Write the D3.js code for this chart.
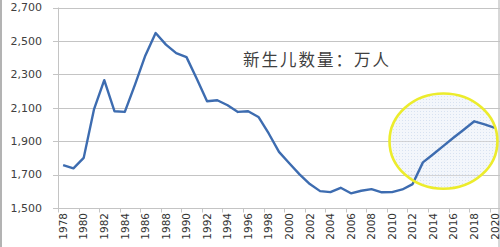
<!DOCTYPE html>
<html>
<head>
<meta charset="utf-8">
<script src="https://cdn.jsdelivr.net/npm/d3@7"></script>
<style>
  html, body { margin: 0; padding: 0; background: #fff; }
  svg { display: block; }
</style>
</head>
<body>
<svg id="chart" width="500" height="247"></svg>
<script>
const years = d3.range(1978, 2021).map(String);
const births = [1757, 1737, 1800, 2090, 2265, 2079, 2075, 2240, 2413, 2547,
                2478, 2427, 2403, 2274, 2139, 2145, 2115, 2075, 2079, 2045,
                1946, 1836, 1768, 1701, 1643, 1601, 1595, 1621, 1588, 1603,
                1613, 1594, 1595, 1611, 1643, 1773, 1822, 1872, 1922, 1970,
                2019, 2000, 1980];
const yTicks = [1500, 1700, 1900, 2100, 2300, 2500, 2700];
const xLabels = years.filter((d, i) => i % 2 === 0);
const titleText = "新生儿数量：万人";
// highlight annotation (in data units): center year, center value, half-width in years, half-height in value
const highlight = { year: "2015", value: 1900, halfYears: 5.25, halfValue: 285 };

const svg = d3.select("#chart");
const mLeft = 58, mRight = 500, mTop = 7.5, mBottom = 208;

const x = d3.scaleBand().domain(years).range([mLeft, mRight]).padding(0);
const y = d3.scaleLinear().domain([1500, 2700]).range([mBottom, mTop]);

// borders
svg.append("line").attr("x1", 1).attr("x2", 1).attr("y1", 0).attr("y2", 247)
  .attr("stroke", "#9a9a9a").attr("stroke-width", 1.5);
svg.append("line").attr("x1", 499).attr("x2", 499).attr("y1", 0).attr("y2", 247)
  .attr("stroke", "#b0b0b0").attr("stroke-width", 1);

// gridlines
svg.append("g").selectAll("line").data(yTicks).join("line")
  .attr("x1", mLeft - 5).attr("x2", mRight)
  .attr("y1", d => Math.round(y(d)) + 0.5).attr("y2", d => Math.round(y(d)) + 0.5)
  .attr("stroke", "#c4c4c4").attr("stroke-width", 1.2);

// y axis line
svg.append("line").attr("x1", mLeft + 0.5).attr("x2", mLeft + 0.5).attr("y1", mTop).attr("y2", mBottom + 0.5)
  .attr("stroke", "#c4c4c4").attr("stroke-width", 1);

// y labels
const fmt = d3.format(",");
svg.append("g").selectAll("text").data(yTicks).join("text")
  .attr("x", 42).attr("y", d => y(d))
  .attr("dy", "0.35em")
  .attr("text-anchor", "end")
  .attr("font-family", "DejaVu Sans, Verdana, sans-serif")
  .attr("font-size", 11)
  .attr("fill", "#404040")
  .text(d => fmt(d));

// x ticks (every 2 categories at boundaries)
const tickIdx = d3.range(0, years.length + 1, 2);
svg.append("g").selectAll("line").data(tickIdx).join("line")
  .attr("x1", i => Math.round(mLeft + i * x.bandwidth()) + 0.5)
  .attr("x2", i => Math.round(mLeft + i * x.bandwidth()) + 0.5)
  .attr("y1", mBottom).attr("y2", mBottom + 4.5)
  .attr("stroke", "#c4c4c4");

// x labels rotated
svg.append("g").selectAll("text").data(xLabels).join("text")
  .attr("transform", d => `translate(${x(d) + x.bandwidth() / 2},${mBottom + 5}) rotate(-90)`)
  .attr("text-anchor", "end")
  .attr("dy", "0.35em")
  .attr("font-family", "DejaVu Sans, Verdana, sans-serif")
  .attr("font-size", 10.5)
  .attr("fill", "#333")
  .text(d => d);

// title
svg.append("text")
  .attr("x", 317).attr("y", 60).attr("dy", "0.35em")
  .attr("text-anchor", "middle")
  .attr("font-family", "Noto Sans CJK SC, sans-serif")
  .attr("font-size", 16.5)
  .attr("letter-spacing", 2)
  .attr("fill", "#404040")
  .text(titleText);

// highlight ellipse geometry
const cx = x(highlight.year) + x.bandwidth() / 2;
const cy = y(highlight.value);
const rx = highlight.halfYears * x.bandwidth();
const ry = y(highlight.value - highlight.halfValue) - cy;

const defs = svg.append("defs");
const pat = defs.append("pattern").attr("id", "dots").attr("width", 3).attr("height", 3)
  .attr("patternUnits", "userSpaceOnUse");
pat.append("rect").attr("width", 3).attr("height", 3).attr("fill", "#f3f6fb");
pat.append("rect").attr("width", 1).attr("height", 1).attr("fill", "#d8e2f1");
defs.append("clipPath").attr("id", "ellClip")
  .append("ellipse").attr("cx", cx).attr("cy", cy).attr("rx", rx).attr("ry", ry);

svg.append("ellipse")
  .attr("cx", cx).attr("cy", cy).attr("rx", rx).attr("ry", ry)
  .attr("fill", "url(#dots)");

// gridlines faintly visible through the fill
svg.append("g").attr("clip-path", "url(#ellClip)")
  .selectAll("line").data(yTicks).join("line")
  .attr("x1", mLeft).attr("x2", mRight)
  .attr("y1", d => Math.round(y(d)) + 0.5).attr("y2", d => Math.round(y(d)) + 0.5)
  .attr("stroke", "#c4c4c4").attr("stroke-width", 1.2)
  .attr("stroke-opacity", 0.7);

// line
const line = d3.line().x((d, i) => x(years[i]) + x.bandwidth() / 2).y(d => y(d));
svg.append("path").datum(births)
  .attr("d", line)
  .attr("fill", "none")
  .attr("stroke", "#3d6cb0")
  .attr("stroke-width", 2.4)
  .attr("stroke-linejoin", "round");

// ellipse outline
svg.append("ellipse")
  .attr("cx", cx).attr("cy", cy).attr("rx", rx).attr("ry", ry)
  .attr("fill", "none")
  .attr("stroke", "#ecec2c")
  .attr("stroke-width", 2.6);
</script>
</body>
</html>
